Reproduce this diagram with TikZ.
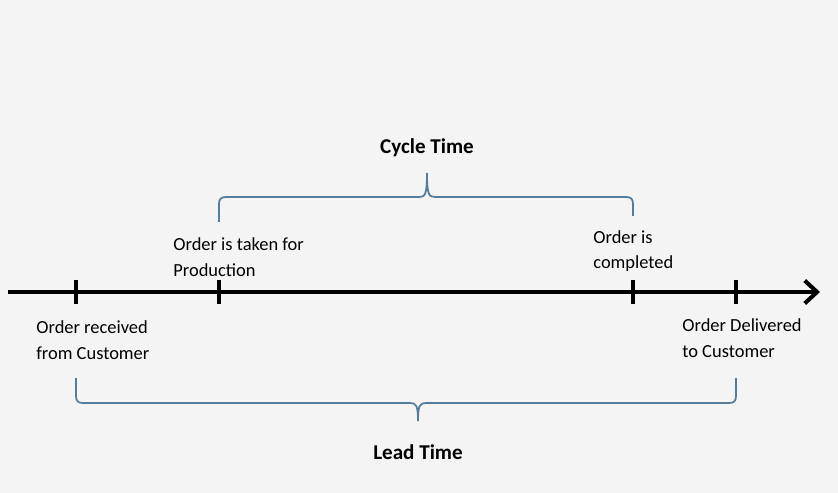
\documentclass[tikz,border=0pt]{standalone}
\usepackage{fontspec}
\setmainfont{Carlito}
\usetikzlibrary{arrows.meta}
\definecolor{bracecol}{RGB}{84,125,156}
\definecolor{bgcol}{RGB}{244,244,244}
\tikzset{
  tlaxis/.style={line width=2.3pt, -{Straight Barb[length=7pt,width=13pt]}},
  tltick/.style={line width=2.2pt},
  tlbrace/.style={draw=bracecol, line width=1pt},
  tlevent/.style={anchor=west, align=left, inner sep=0pt, font=\fontsize{10.5}{14.7}\selectfont},
  tlspan/.style={inner sep=0pt, font=\fontsize{12}{14}\selectfont\bfseries},
}

\begin{document}
\begin{tikzpicture}[x=0.02cm, y=-0.02cm]
  \fill[bgcol] (0,0) rectangle (838,493);
  \useasboundingbox (0,0) rectangle (838,493);
  % time axis
  \coordinate (start) at (8,292);
  \coordinate (end) at (820,292);
  \draw[tlaxis] (start) -- (end);
  \coordinate (t1) at (76,292);
  \coordinate (t2) at (219,292);
  \coordinate (t3) at (633,292);
  \coordinate (t4) at (736,292);
  \foreach \t in {t1,t2,t3,t4}
    \draw[tltick] ([yshift=6.8pt]\t) -- ([yshift=-6.8pt]\t);
  % events
  \node (recv) [tlevent] at (36,340) {Order received\\from Customer};
  \node (prod) [tlevent] at (173,257) {Order is taken for\\Production};
  \node (done) [tlevent] at (593,251) {Order is\\completed};
  \node (dlvd) [tlevent] at (682,338) {Order Delivered\\to Customer};
  % spans
  \node (cycle) [tlspan] at (427,148) {Cycle Time};
  \node (lead) [tlspan] at (418,452) {Lead Time};
  \draw[tlbrace] (219,222) -- (219,204) .. controls (219,199) and (221,197) .. (226,197)
    -- (419,197) .. controls (425,197) and (427,195) .. (427,173)
    .. controls (427,195) and (429,197) .. (435,197)
    -- (626,197) .. controls (631,197) and (633,199) .. (633,204) -- (633,216);
  \draw[tlbrace] (76,378) -- (76,396) .. controls (76,401) and (78,403) .. (83,403)
    -- (410,403) .. controls (416,403) and (418,405) .. (418,421)
    .. controls (418,405) and (420,403) .. (426,403)
    -- (729,403) .. controls (734,403) and (736,401) .. (736,396) -- (736,378);
\end{tikzpicture}
\end{document}
